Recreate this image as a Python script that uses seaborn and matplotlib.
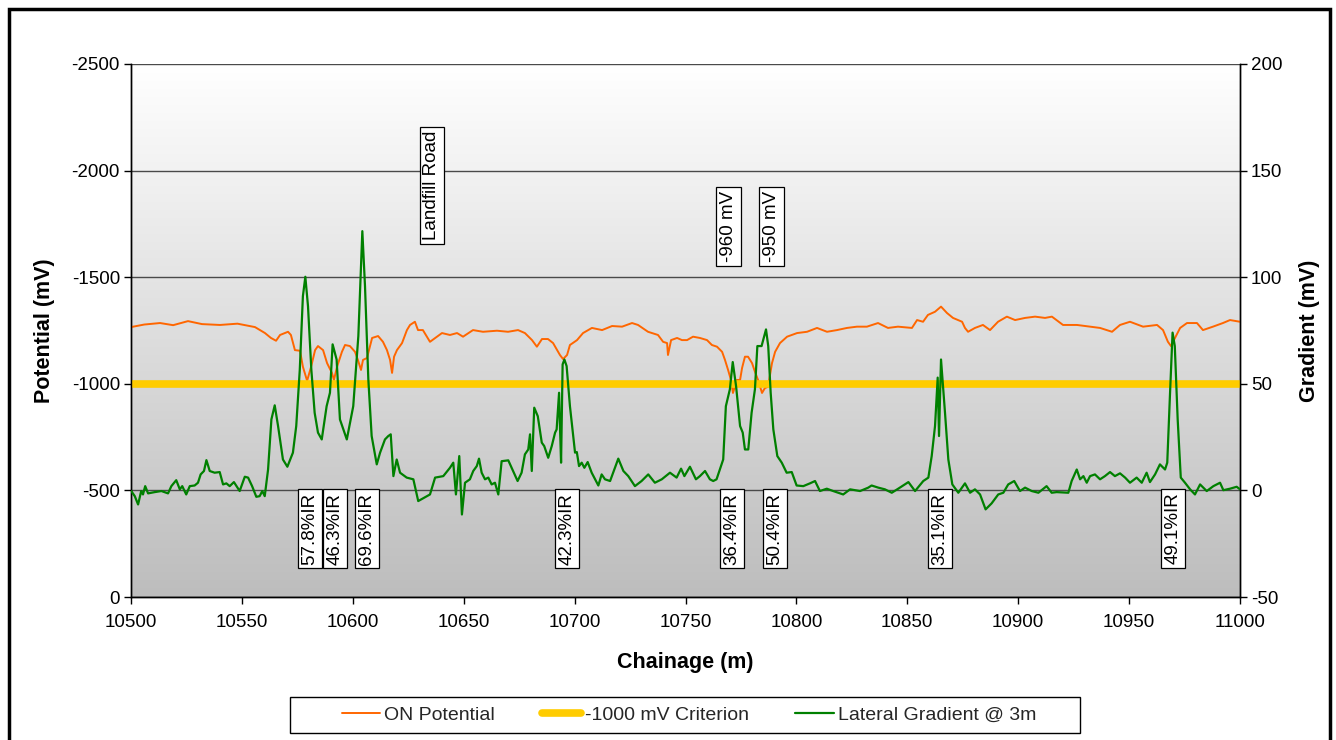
import numpy as np
import pandas as pd
import matplotlib
matplotlib.use("Agg")
import matplotlib.pyplot as plt
import seaborn as sns
from matplotlib.patches import Rectangle
from matplotlib.colors import LinearSegmentedColormap
from matplotlib.lines import Line2D

# ---------------- data ----------------
on_chainage = [
    10500.0, 10506.0, 10513.1, 10519.0, 10525.7, 10532.0, 10540.1, 10548.0, 10555.9, 10560.4,
    10563.1, 10565.4, 10567.2, 10570.8, 10572.1, 10573.9, 10576.2, 10577.5, 10579.4, 10581.2,
    10583.0, 10584.3, 10586.6, 10588.4, 10590.6, 10591.5, 10592.9, 10595.1, 10596.5, 10598.7,
    10601.0, 10602.3, 10603.7, 10604.6, 10606.4, 10608.7, 10611.4, 10613.6, 10615.4, 10616.8,
    10617.7, 10618.6, 10619.9, 10622.2, 10624.4, 10625.8, 10628.0, 10629.4, 10631.6, 10634.8,
    10638.0, 10640.2, 10643.8, 10647.0, 10649.7, 10654.2, 10658.7, 10665.0, 10670.0, 10674.5,
    10677.6, 10680.8, 10683.0, 10685.3, 10688.0, 10690.3, 10692.1, 10693.4, 10694.8, 10696.6,
    10697.9, 10701.1, 10703.8, 10707.8, 10712.4, 10716.9, 10721.4, 10725.9, 10728.6, 10733.1,
    10737.6, 10739.9, 10741.7, 10742.1, 10743.5, 10746.2, 10748.4, 10750.7, 10753.4, 10756.5,
    10759.7, 10761.9, 10764.2, 10766.5, 10767.8, 10769.2, 10770.5, 10771.4, 10773.2, 10774.6,
    10775.5, 10776.8, 10778.2, 10780.0, 10781.3, 10782.7, 10784.5, 10785.8, 10787.2, 10789.0,
    10790.4, 10792.6, 10795.8, 10800.3, 10804.8, 10809.3, 10813.8, 10818.3, 10822.8, 10827.3,
    10831.8, 10836.8, 10841.3, 10845.8, 10852.1, 10854.4, 10857.1, 10859.3, 10862.5, 10865.2,
    10867.9, 10870.6, 10874.7, 10876.0, 10877.4, 10880.5, 10884.1, 10887.3, 10890.9, 10894.9,
    10898.6, 10903.1, 10907.6, 10912.1, 10915.2, 10920.2, 10926.5, 10932.4, 10936.9, 10942.3,
    10945.9, 10950.4, 10956.3, 10962.6, 10965.3, 10967.5, 10968.9, 10970.2, 10973.0, 10976.1,
    10980.6, 10983.3, 10987.8, 10992.3, 10995.5, 11000.0,
]
on_potential = [
    -1266, -1278, -1285, -1275, -1294, -1280, -1276, -1282, -1266, -1238,
    -1215, -1202, -1229, -1244, -1229, -1158, -1155, -1080, -1014, -1080,
    -1158, -1177, -1158, -1097, -1051, -1018, -1080, -1150, -1182, -1177,
    -1150, -1112, -1065, -1112, -1121, -1215, -1224, -1197, -1158, -1112,
    -1051, -1127, -1158, -1191, -1252, -1276, -1291, -1252, -1252, -1197,
    -1221, -1238, -1229, -1238, -1221, -1252, -1244, -1249, -1244, -1252,
    -1238, -1205, -1174, -1210, -1210, -1191, -1158, -1135, -1116, -1135,
    -1182, -1205, -1238, -1262, -1252, -1271, -1268, -1285, -1276, -1244,
    -1229, -1197, -1191, -1135, -1205, -1215, -1205, -1205, -1221, -1215,
    -1205, -1182, -1174, -1150, -1112, -1065, -1018, -957, -1018, -1018,
    -1074, -1127, -1127, -1097, -1057, -1018, -957, -980, -986, -1097,
    -1150, -1191, -1221, -1238, -1244, -1262, -1244, -1252, -1262, -1268,
    -1268, -1285, -1262, -1268, -1262, -1299, -1291, -1323, -1338, -1362,
    -1332, -1309, -1291, -1262, -1244, -1262, -1276, -1252, -1291, -1315,
    -1299, -1309, -1315, -1309, -1315, -1276, -1276, -1268, -1262, -1244,
    -1276, -1291, -1268, -1276, -1252, -1197, -1177, -1205, -1262, -1285,
    -1285, -1252, -1268, -1285, -1299, -1291,
]

grad_chainage = [
    10500.1, 10501.7, 10503.2, 10504.6, 10505.4, 10506.4, 10507.7, 10510.7, 10513.7, 10516.7,
    10518.2, 10520.4, 10522.0, 10523.1, 10524.9, 10526.5, 10528.7, 10530.2, 10531.4, 10532.9,
    10534.0, 10535.5, 10537.7, 10540.0, 10541.5, 10543.0, 10544.5, 10546.4, 10549.0, 10551.3,
    10552.8, 10554.6, 10556.5, 10558.0, 10559.2, 10560.3, 10561.8, 10563.3, 10564.8, 10566.3,
    10568.5, 10570.5, 10573.0, 10574.5, 10576.1, 10577.5, 10578.6, 10579.8, 10581.3, 10582.8,
    10584.3, 10586.0, 10588.2, 10589.7, 10590.9, 10592.7, 10594.2, 10597.3, 10600.2, 10602.5,
    10604.3, 10605.5, 10607.0, 10608.5, 10610.8, 10612.3, 10614.5, 10616.0, 10617.1, 10618.3,
    10619.8, 10621.3, 10624.3, 10627.3, 10629.5, 10634.8, 10637.1, 10640.8, 10643.8, 10645.3,
    10646.5, 10648.0, 10649.2, 10650.6, 10652.8, 10654.3, 10655.9, 10656.9, 10658.1, 10659.6,
    10661.1, 10662.6, 10664.1, 10665.6, 10667.1, 10670.1, 10671.6, 10674.3, 10676.1, 10677.6,
    10679.1, 10679.9, 10680.7, 10681.8, 10683.4, 10685.2, 10686.3, 10688.1, 10689.7, 10691.2,
    10691.9, 10693.0, 10693.4, 10693.9, 10694.6, 10695.4, 10696.4, 10697.9, 10699.4, 10700.2,
    10701.0, 10702.0, 10703.2, 10704.4, 10705.9, 10707.7, 10710.7, 10712.2, 10713.7, 10716.0,
    10719.7, 10722.0, 10724.2, 10727.2, 10730.2, 10733.2, 10736.2, 10739.3, 10743.0, 10746.0,
    10748.0, 10749.5, 10752.0, 10754.7, 10756.5, 10758.8, 10761.0, 10762.5, 10764.0, 10765.5,
    10767.0, 10768.2, 10770.0, 10771.3, 10772.8, 10774.6, 10775.8, 10776.8, 10778.3, 10779.8,
    10781.3, 10782.4, 10784.3, 10786.3, 10787.3, 10788.4, 10789.6, 10791.4, 10793.4, 10795.6,
    10797.9, 10800.1, 10803.1, 10806.1, 10808.4, 10810.6, 10813.7, 10816.6, 10821.1, 10824.2,
    10828.7, 10832.4, 10833.9, 10836.9, 10839.9, 10843.0, 10845.9, 10850.5, 10853.5, 10857.2,
    10859.5, 10861.0, 10862.5, 10863.7, 10864.3, 10865.2, 10867.0, 10868.5, 10870.3, 10873.0,
    10876.0, 10878.3, 10880.5, 10882.8, 10885.3, 10888.0, 10891.0, 10893.3, 10895.5, 10898.2,
    10900.8, 10903.1, 10906.1, 10909.1, 10912.8, 10915.1, 10917.3, 10922.6, 10924.1, 10926.4,
    10927.9, 10929.4, 10930.9, 10932.4, 10934.6, 10936.9, 10939.1, 10941.4, 10943.6, 10945.9,
    10948.2, 10950.4, 10953.4, 10955.7, 10957.9, 10959.4, 10961.7, 10963.9, 10966.2, 10967.2,
    10968.4, 10969.6, 10970.6, 10971.9, 10973.3, 10975.2, 10977.5, 10979.7, 10982.0, 10985.0,
    10988.0, 10991.0, 10992.5, 10995.5, 10998.5, 11000.0,
]
grad_values = [
    -0.3, -2.7, -6.6, -0.3, -1.9, 2.0, -1.4, -0.8, -0.3, -1.4,
    2.0, 4.8, 0.5, 2.0, -1.9, 2.0, 2.3, 3.6, 7.5, 9.1,
    14.2, 9.1, 8.3, 8.6, 2.8, 3.3, 2.0, 3.9, -0.3, 6.4,
    6.0, 2.0, -3.0, -2.7, -0.3, -2.7, 9.8, 33.3, 39.9, 30.2,
    14.5, 11.1, 17.7, 30.2, 56.7, 91.1, 100.2, 86.4, 56.7, 36.4,
    27.1, 23.9, 39.5, 45.8, 68.5, 61.4, 33.3, 23.9, 39.5, 72.4,
    121.6, 95.8, 52.1, 25.5, 12.2, 17.7, 23.9, 25.5, 26.3, 6.7,
    14.5, 8.3, 6.0, 5.2, -5.0, -1.9, 6.0, 6.7, 10.6, 13.0,
    -1.9, 16.1, -11.3, 3.6, 5.2, 9.1, 11.4, 14.9, 8.3, 5.2,
    6.0, 2.8, 3.6, -1.9, 13.7, 14.1, 10.6, 4.4, 8.3, 16.9,
    19.2, 26.3, 9.1, 38.8, 34.8, 22.4, 20.8, 15.3, 20.8, 27.1,
    28.6, 45.8, 30.2, 13.0, 59.1, 61.4, 58.3, 39.5, 25.5, 17.7,
    18.0, 11.4, 13.0, 10.6, 13.3, 8.3, 2.3, 7.5, 5.2, 4.4,
    14.9, 9.1, 6.7, 2.0, 4.4, 7.5, 3.6, 5.2, 8.3, 6.0,
    10.2, 6.7, 11.1, 5.2, 6.7, 9.1, 5.2, 4.4, 5.2, 9.8,
    14.5, 39.5, 47.4, 60.2, 48.9, 30.2, 27.1, 19.2, 19.2, 36.4,
    47.4, 67.7, 67.7, 75.5, 67.7, 45.8, 28.6, 16.1, 13.0, 8.3,
    8.6, 2.3, 2.0, 3.3, 4.4, -0.3, 0.8, -0.3, -1.9, 0.5,
    -0.3, 1.3, 2.3, 1.3, 0.5, -1.1, 0.8, 3.9, -0.3, 4.4,
    6.0, 16.1, 30.2, 52.9, 25.5, 61.4, 36.4, 14.5, 2.8, -1.1,
    3.3, -1.1, 0.5, -1.9, -8.9, -6.1, -1.9, -1.1, 2.8, 4.4,
    -0.3, 1.3, -0.3, -1.1, 2.0, -1.1, -0.8, -1.1, 4.4, 9.8,
    5.2, 6.7, 3.6, 6.7, 7.5, 5.2, 6.7, 8.6, 6.7, 8.0,
    6.0, 3.6, 6.0, 3.6, 8.3, 3.9, 7.5, 12.2, 9.8, 13.0,
    44.2, 74.0, 67.7, 33.3, 6.0, 3.6, 0.5, -1.9, 2.8, -0.3,
    2.0, 3.6, 0.1, 0.8, 1.7, 0.5,
]

criterion_chainage = [10500, 11000]
criterion_values = [-1000, -1000]

series_labels = ["ON Potential", "-1000 mV Criterion", "Lateral Gradient @ 3m"]

left_ticks = [-2500, -2000, -1500, -1000, -500, 0]
right_ticks = [-50, 0, 50, 100, 150, 200]
x_ticks = list(range(10500, 11001, 50))

ir_labels = ["57.8%IR", "46.3%IR", "69.6%IR", "42.3%IR",
             "36.4%IR", "50.4%IR", "35.1%IR", "49.1%IR"]
ir_chainage = [10580.7, 10592.0, 10606.4, 10696.6, 10771.0, 10790.4, 10864.7, 10969.8]

top_labels = ["Landfill Road", "-960 mV", "-950 mV"]
top_chainage = [10635.7, 10769.4, 10788.8]
top_level = [-1932, -1738, -1738]

# ---------------- style ----------------
sns.set_theme(style="white")
plt.rcParams["font.family"] = ["Liberation Sans", "DejaVu Sans"]
plt.rcParams["axes.unicode_minus"] = False

FS = 13.5
ORANGE = "#FF6600"
YELLOW = "#FFCC00"
GREEN = "#008000"

fig = plt.figure(figsize=(13.36, 7.40), dpi=100)
fig.patch.set_facecolor("white")
ax = fig.add_axes([131 / 1336, 1 - 597 / 740, (1240 - 131) / 1336, (597 - 64) / 740])

# background gradient
bg = np.linspace(0, 1, 256).reshape(-1, 1)
cmap = LinearSegmentedColormap.from_list("bg", ["#FFFFFF", "#BDBDBD"])
ax.imshow(bg, extent=[0, 1, 0, 1], transform=ax.transAxes, cmap=cmap,
          aspect="auto", origin="upper", zorder=0, interpolation="bilinear")

df_on = pd.DataFrame({"chainage": on_chainage, "potential": on_potential})
df_cr = pd.DataFrame({"chainage": criterion_chainage, "potential": criterion_values})
df_gr = pd.DataFrame({"chainage": grad_chainage, "gradient": grad_values})

sns.lineplot(data=df_on, x="chainage", y="potential", ax=ax, color=ORANGE,
             lw=1.4, estimator=None, sort=False, zorder=3)
sns.lineplot(data=df_cr, x="chainage", y="potential", ax=ax, color=YELLOW,
             lw=5.5, estimator=None, sort=False, zorder=4)

ax.set_xlim(10500, 11000)
ax.set_ylim(0, -2500)
ax.set_yticks(left_ticks)
ax.set_yticklabels([str(v) for v in left_ticks])
ax.set_xticks(x_ticks)
ax.set_xticklabels([str(v) for v in x_ticks])
ax.yaxis.grid(True, color="#4A4A4A", lw=1.0)
ax.xaxis.grid(False)
ax.set_axisbelow(True)

ax2 = ax.twinx()
sns.lineplot(data=df_gr, x="chainage", y="gradient", ax=ax2, color=GREEN,
             lw=1.6, estimator=None, sort=False, zorder=3)
ax2.set_ylim(-50, 200)
ax2.set_yticks(right_ticks)
ax2.set_yticklabels([str(v) for v in right_ticks])
ax2.set_xlim(10500, 11000)

for a in (ax, ax2):
    for side in ("left", "right", "bottom"):
        a.spines[side].set_color("black")
        a.spines[side].set_linewidth(1.0)
    a.spines["top"].set_visible(False)
    a.tick_params(axis="both", direction="out", length=5, width=1,
                  color="black", labelsize=FS, labelcolor="black")
ax.tick_params(axis="y", left=True, right=False, pad=3)
ax.tick_params(axis="x", bottom=True, pad=7.5)
ax2.tick_params(axis="y", right=True, left=False, pad=3)
ax2.patch.set_visible(False)

ax.set_xlabel("Chainage (m)", fontsize=15.5, fontweight="bold", labelpad=15, color="black")
ax.set_ylabel("Potential (mV)", fontsize=15.5, fontweight="bold", labelpad=12, color="black")
ax2.set_ylabel("Gradient (mV)", fontsize=15.5, fontweight="bold", labelpad=12, color="black")

box = dict(boxstyle="square,pad=0.2", facecolor="white", edgecolor="black", lw=0.9)
for lbl, xc in zip(ir_labels, ir_chainage):
    ax2.text(xc, -321, lbl, transform=ax.transData, rotation=90, ha="center",
             va="center", fontsize=FS, bbox=box, zorder=10, color="black")
for lbl, xc, yv in zip(top_labels, top_chainage, top_level):
    ax2.text(xc, yv, lbl, transform=ax.transData, rotation=90, ha="center",
             va="center", fontsize=FS, bbox=box, zorder=10, color="black")

handles = [Line2D([], [], color=ORANGE, lw=1.4),
           Line2D([], [], color=YELLOW, lw=5.5),
           Line2D([], [], color=GREEN, lw=1.6)]
for a in (ax, ax2):
    lg = a.get_legend()
    if lg is not None:
        lg.remove()

# legend frame drawn as a separate rectangle, entries centered inside
fig.patches.append(Rectangle((290 / 1336, 1 - 733 / 740), (1080 - 290) / 1336, 36 / 740,
                             transform=fig.transFigure, facecolor="white",
                             edgecolor="black", lw=1.0, zorder=1))
leg = fig.legend(handles, series_labels, loc="center", bbox_to_anchor=(689 / 1336, 1 - 715 / 740),
                 ncol=3, frameon=False, handlelength=2.0, handletextpad=0.2,
                 columnspacing=2.4, borderpad=0.3, fontsize=14)
leg.set_zorder(5)

# outer chart border
fig.patches.append(Rectangle((9 / 1336, -0.05), (1330 - 9) / 1336, 1.05 - 9 / 740,
                             transform=fig.transFigure, fill=False,
                             edgecolor="black", lw=2.5, zorder=0))

fig.savefig("out.png", dpi=100, facecolor="white")
